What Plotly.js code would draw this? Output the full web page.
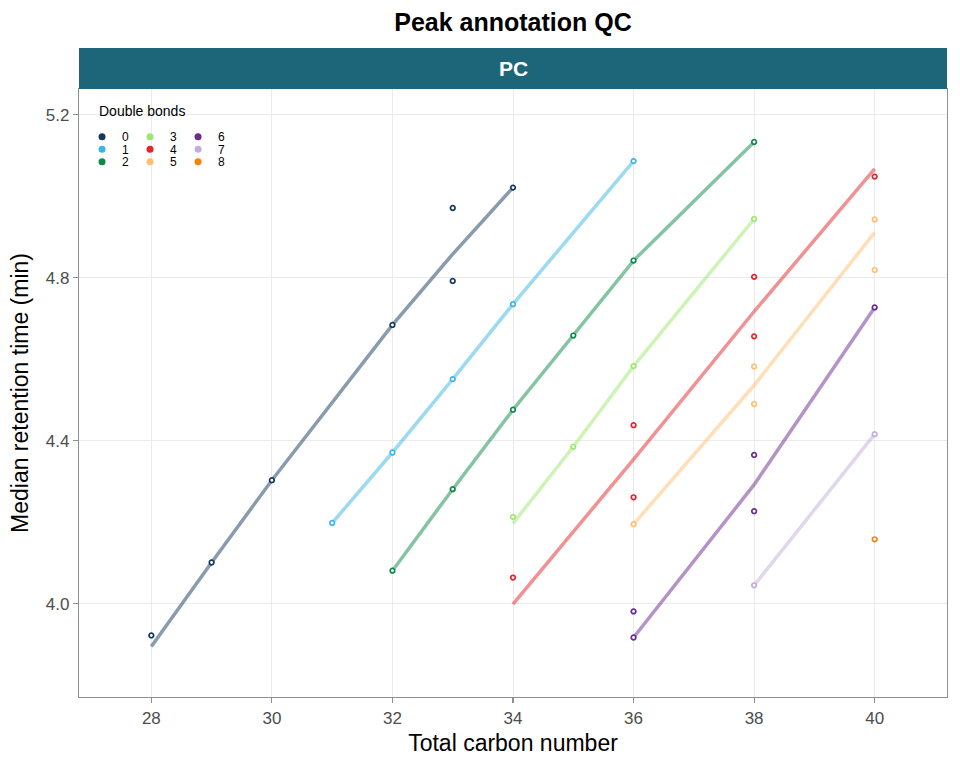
<!DOCTYPE html>
<html>
<head>
<meta charset="utf-8">
<script src="https://cdn.plot.ly/plotly-3.0.1.min.js"></script>
<style>
  html, body { margin: 0; padding: 0; background: #fff; }
</style>
</head>
<body>
<div id="qcPlot" style="width:960px;height:768px;"></div>
<script>
let qcPlot = document.getElementById('qcPlot');

const dbLevels = ['0', '1', '2', '3', '4', '5', '6', '7', '8'];
const dbColors = ['#14395C', '#3AB6E6', '#0C8A48', '#9BE870', '#E62429',
                  '#FFC070', '#6A2A8E', '#C3ADDA', '#FF7F0E'];

// observed peaks: carbon number, double bonds, median RT
const pointCarbon = [28, 29, 30, 32, 33, 33, 34,
                     31, 32, 33, 34, 36,
                     32, 33, 34, 35, 36, 38,
                     34, 35, 36, 38,
                     34, 36, 36, 38, 38, 40,
                     36, 38, 38, 40, 40,
                     36, 36, 38, 38, 40,
                     38, 40,
                     40];
const pointDb = [0, 0, 0, 0, 0, 0, 0,
                 1, 1, 1, 1, 1,
                 2, 2, 2, 2, 2, 2,
                 3, 3, 3, 3,
                 4, 4, 4, 4, 4, 4,
                 5, 5, 5, 5, 5,
                 6, 6, 6, 6, 6,
                 7, 7,
                 8];
const pointRt = [3.922, 4.101, 4.303, 4.684, 4.792, 4.971, 5.021,
                 4.198, 4.371, 4.551, 4.735, 5.086,
                 4.081, 4.281, 4.476, 4.658, 4.842, 5.133,
                 4.213, 4.385, 4.583, 4.944,
                 4.064, 4.261, 4.438, 4.656, 4.802, 5.048,
                 4.195, 4.490, 4.582, 4.819, 4.943,
                 3.917, 3.981, 4.227, 4.365, 4.727,
                 4.045, 4.416,
                 4.158];

// fitted trend per double-bond class
const fitCarbon = [28, 29, 30, 32, 33, 34,
                   31, 32, 33, 34, 36,
                   32, 33, 34, 35, 36, 38,
                   34, 35, 36, 38,
                   34, 36, 38, 40,
                   36, 38, 40,
                   36, 38, 40,
                   38, 40];
const fitDb = [0, 0, 0, 0, 0, 0,
               1, 1, 1, 1, 1,
               2, 2, 2, 2, 2, 2,
               3, 3, 3, 3,
               4, 4, 4, 4,
               5, 5, 5,
               6, 6, 6,
               7, 7];
const fitRt = [3.895, 4.101, 4.303, 4.684, 4.858, 5.021,
               4.198, 4.371, 4.551, 4.735, 5.086,
               4.081, 4.281, 4.476, 4.658, 4.842, 5.133,
               4.197, 4.385, 4.583, 4.944,
               3.999, 4.354, 4.717, 5.067,
               4.195, 4.536, 4.911,
               3.917, 4.292, 4.727,
               4.045, 4.416];

const xTicks = [28, 30, 32, 34, 36, 38, 40];
const yTicks = [4.0, 4.4, 4.8, 5.2];

function pick(keys, vals, level) {
    let out = [];
    keys.forEach((k, j) => { if (k === level) out.push(vals[j]); });
    return out;
}

let lineTraces = [];
let pointTraces = [];
let keyTraces = [];
// legend is filled column by column, so each row is its own horizontal legend
const legendIds = ['legend', 'legend2', 'legend3'];

dbLevels.forEach((db, i) => {
    let fx = pick(fitDb, fitCarbon, i);
    if (fx.length > 0) {
        lineTraces.push({
            type: 'scatter', mode: 'lines',
            x: fx, y: pick(fitDb, fitRt, i),
            line: { color: dbColors[i], width: 3.5 },
            opacity: 0.5,
            showlegend: false, hoverinfo: 'skip'
        });
    }
    pointTraces.push({
        type: 'scatter', mode: 'markers',
        x: pick(pointDb, pointCarbon, i), y: pick(pointDb, pointRt, i),
        marker: { symbol: 'circle', size: 4.6, color: 'white',
                  line: { color: dbColors[i], width: 1.7 } },
        showlegend: false, name: db
    });
    // legend key only
    keyTraces.push({
        type: 'scatter', mode: 'markers',
        x: [null], y: [null], name: db,
        marker: { color: dbColors[i], size: 7 },
        legend: legendIds[i % 3]
    });
});

function legendRow(py) {
    return {
        orientation: 'h',
        entrywidth: 3, entrywidthmode: 'pixels',
        bgcolor: 'rgba(0,0,0,0)', borderwidth: 0,
        x: 0.0035, xanchor: 'left',
        y: (697.3 - py) / 608, yanchor: 'middle',
        font: { size: 12, color: '#000' }
    };
}

let layout = {
    width: 960, height: 768,
    margin: { l: 79, r: 13, t: 89, b: 71 },
    paper_bgcolor: 'white', plot_bgcolor: 'white',
    font: { family: 'Liberation Sans, Arial, sans-serif', color: '#000' },
    showlegend: true,
    title: {
        text: '<b>Peak annotation QC</b>',
        font: { size: 25, color: '#000' },
        x: 0.5, xref: 'paper', xanchor: 'center',
        y: 1 - 22 / 768, yref: 'container', yanchor: 'middle'
    },
    xaxis: {
        range: [26.8, 41.2],
        tickvals: xTicks,
        ticktext: xTicks.map(String),
        showgrid: true, gridcolor: '#EBEBEB', gridwidth: 1,
        zeroline: false,
        showline: true, mirror: true, linecolor: '#8F8F8F', linewidth: 1.2,
        ticks: 'outside', ticklen: 5, tickcolor: '#8F8F8F', tickwidth: 1.2,
        tickfont: { size: 17, color: '#4D4D4D' },
        title: { text: 'Total carbon number', font: { size: 23, color: '#000' }, standoff: 8 }
    },
    yaxis: {
        range: [3.771, 5.263],
        tickvals: yTicks,
        ticktext: yTicks.map(v => v.toFixed(1)),
        showgrid: true, gridcolor: '#EBEBEB', gridwidth: 1,
        zeroline: false,
        showline: true, mirror: true, linecolor: '#8F8F8F', linewidth: 1.2,
        ticks: 'outside', ticklen: 5, tickcolor: '#8F8F8F', tickwidth: 1.2,
        tickfont: { size: 17, color: '#4D4D4D' },
        title: { text: 'Median retention time (min)', font: { size: 23, color: '#000' }, standoff: 10 }
    },
    legend: legendRow(137),
    legend2: legendRow(149.5),
    legend3: legendRow(162),
    shapes: [{
        type: 'rect', xref: 'paper', yref: 'paper',
        x0: 0, x1: 1, y0: 1, y1: 1 + 41 / 608,
        fillcolor: '#1D6679', line: { width: 0 }, layer: 'above'
    }],
    annotations: [{
        text: '<b>PC</b>', xref: 'paper', yref: 'paper',
        x: 0.5, y: 1 + 20.5 / 608, xanchor: 'center', yanchor: 'middle',
        showarrow: false, font: { size: 21, color: '#FFFFFF' }
    }, {
        text: 'Double bonds', xref: 'paper', yref: 'paper',
        x: 18 / 868, y: (697.3 - 111) / 608, xanchor: 'left', yanchor: 'middle',
        showarrow: false, font: { size: 14, color: '#000' }
    }]
};

Plotly.newPlot(qcPlot, lineTraces.concat(pointTraces, keyTraces), layout, { staticPlot: true });
</script>
</body>
</html>
